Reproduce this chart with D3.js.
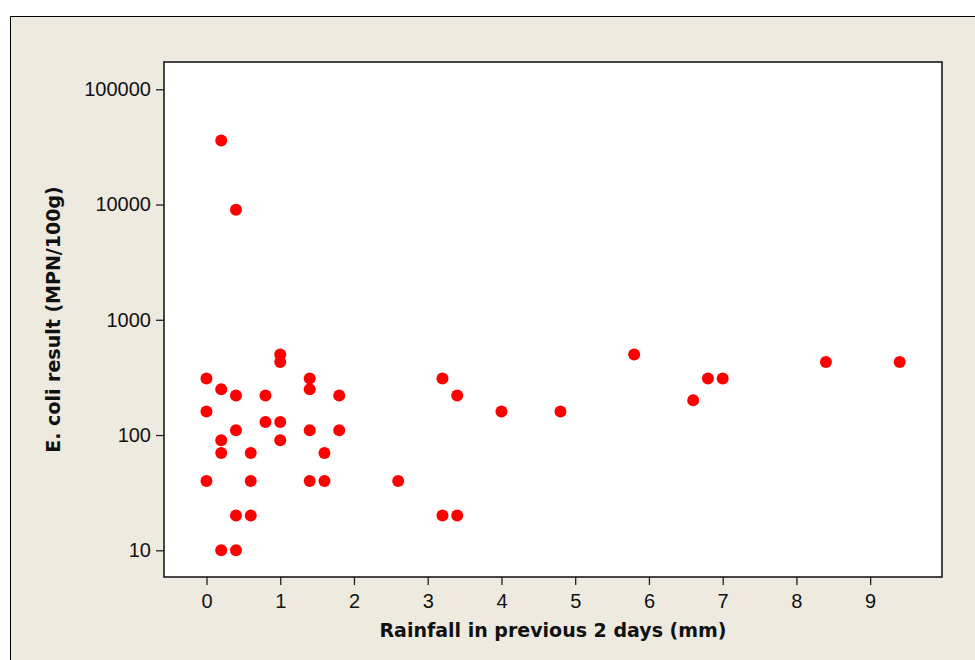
<!DOCTYPE html>
<html>
<head>
<meta charset="utf-8">
<script src="https://cdn.jsdelivr.net/npm/d3@7"></script>
<style>
  body { margin: 0; background: #fff; }
  svg { display: block; }
</style>
</head>
<body>
<div id="chart"></div>
<script>
// Rainfall (mm) and E. coli result (MPN/100g), one entry per sample
const rainfall = [
  0, 0, 0,
  0.2, 0.2, 0.2, 0.2, 0.2,
  0.4, 0.4, 0.4, 0.4, 0.4,
  0.6, 0.6, 0.6,
  0.8, 0.8,
  1.0, 1.0, 1.0, 1.0,
  1.4, 1.4, 1.4, 1.4,
  1.6, 1.6,
  1.8, 1.8,
  2.6,
  3.2, 3.2,
  3.4, 3.4,
  4.0, 4.8, 5.8, 6.6, 6.8, 7.0, 8.4, 9.4
];
const ecoli = [
  310, 160, 40,
  36000, 250, 90, 70, 10,
  9000, 220, 110, 20, 10,
  70, 40, 20,
  220, 130,
  500, 430, 130, 90,
  310, 250, 110, 40,
  70, 40,
  220, 110,
  40,
  310, 20,
  220, 20,
  160, 160, 500, 200, 310, 310, 430, 430
];
const xTicks = [0, 1, 2, 3, 4, 5, 6, 7, 8, 9];
const yTicks = [10, 100, 1000, 10000, 100000];

const W = 975, H = 660;
const plot = {left: 164, right: 942, top: 62, bottom: 577};

const svg = d3.select("#chart").append("svg")
  .attr("width", W)
  .attr("height", H);

// beige frame with black top/left edge
svg.append("rect")
  .attr("x", 10).attr("y", 16)
  .attr("width", W).attr("height", H)
  .attr("fill", "#eeeae0");
svg.append("path")
  .attr("d", `M10.5,${H} V16.5 H${W}`)
  .attr("fill", "none")
  .attr("stroke", "#000")
  .attr("stroke-width", 1);

const x = d3.scaleLinear()
  .domain([-0.576, 9.974])
  .range([plot.left, plot.right]);

const y = d3.scaleLog()
  .domain([Math.pow(10, 0.7683), Math.pow(10, 5.2369)])
  .range([plot.bottom, plot.top]);

// plot background
svg.append("rect")
  .attr("x", plot.left).attr("y", plot.top)
  .attr("width", plot.right - plot.left)
  .attr("height", plot.bottom - plot.top)
  .attr("fill", "#fff");

// axes
const xAxis = svg.append("g")
  .attr("transform", `translate(0,${plot.bottom})`)
  .call(d3.axisBottom(x).tickValues(xTicks).tickFormat(d3.format("d"))
    .tickSize(8).tickPadding(9).tickSizeOuter(0));

const yAxis = svg.append("g")
  .attr("transform", `translate(${plot.left},0)`)
  .call(d3.axisLeft(y).tickValues(yTicks).tickFormat(d3.format("d"))
    .tickSize(8).tickPadding(5).tickSizeOuter(0));

[xAxis, yAxis].forEach(g => {
  g.select(".domain").remove();
  g.selectAll(".tick line").attr("stroke", "#222").attr("stroke-width", 1.3);
  g.selectAll(".tick text")
    .attr("fill", "#111")
    .style("font-family", "'Liberation Sans', Arial, sans-serif")
    .style("font-size", "20px");
});

// plot border
svg.append("rect")
  .attr("x", plot.left).attr("y", plot.top)
  .attr("width", plot.right - plot.left)
  .attr("height", plot.bottom - plot.top)
  .attr("fill", "none")
  .attr("stroke", "#1a1a1a")
  .attr("stroke-width", 1.6);

// points
svg.append("g")
  .selectAll("circle")
  .data(rainfall.map((r, i) => ({r, v: ecoli[i]})))
  .enter()
  .append("circle")
  .attr("cx", d => x(d.r))
  .attr("cy", d => y(d.v))
  .attr("r", 6)
  .attr("fill", "#ff0000");

// axis titles
svg.append("text")
  .attr("x", (plot.left + plot.right) / 2)
  .attr("y", 637)
  .attr("text-anchor", "middle")
  .style("font-family", "'DejaVu Sans', Verdana, sans-serif")
  .style("font-weight", "bold")
  .style("font-size", "19px")
  .attr("fill", "#111")
  .text("Rainfall in previous 2 days (mm)");

svg.append("text")
  .attr("transform", `translate(60,${(plot.top + plot.bottom) / 2}) rotate(-90)`)
  .attr("text-anchor", "middle")
  .style("font-family", "'DejaVu Sans', Verdana, sans-serif")
  .style("font-weight", "bold")
  .style("font-size", "19px")
  .attr("fill", "#111")
  .text("E. coli result (MPN/100g)");
</script>
</body>
</html>
